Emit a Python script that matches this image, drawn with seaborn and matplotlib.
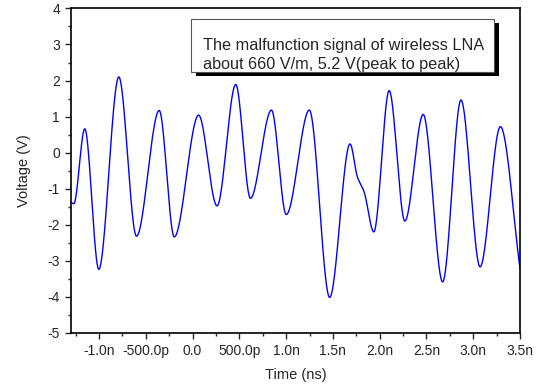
import numpy as np
import pandas as pd
import matplotlib
matplotlib.use("Agg")
import matplotlib.pyplot as plt
import seaborn as sns
from matplotlib.patches import Rectangle
from matplotlib.ticker import MultipleLocator, FuncFormatter

# key points (time in ns, voltage in V): turning points plus shoulders
time_ns = [-1.300, -1.270, -1.153, -1.003, -0.789, -0.600, -0.357, -0.196,
           0.064, 0.261, 0.461, 0.618, 0.843, 1.001, 1.248, 1.465,
           1.683, 1.761, 1.833, 1.937, 2.101, 2.269, 2.465, 2.673,
           2.869, 3.073, 3.290, 3.500]
voltage = [-1.38, -1.42, 0.66, -3.24, 2.10, -2.32, 1.17, -2.34,
           1.04, -1.48, 1.89, -1.27, 1.18, -1.72, 1.18, -4.02,
           0.24, -0.67, -1.09, -2.20, 1.72, -1.90, 1.06, -3.59,
           1.46, -3.17, 0.72, -3.22]

note_lines = ["The malfunction signal of wireless LNA",
              "about 660 V/m, 5.2 V(peak to peak)"]


def smooth_trace(x, y, n=2000):
    # monotone cubic (Fritsch-Carlson) so the line passes through the read points
    x = np.asarray(x, float)
    y = np.asarray(y, float)
    h = np.diff(x)
    d = np.diff(y) / h
    m = np.zeros_like(y)
    for k in range(1, len(x) - 1):
        if d[k - 1] * d[k] > 0:
            w1 = 2 * h[k] + h[k - 1]
            w2 = h[k] + 2 * h[k - 1]
            m[k] = (w1 + w2) / (w1 / d[k - 1] + w2 / d[k])
    m[0] = d[0]
    m[-1] = d[-1]
    xs = np.linspace(x[0], x[-1], n)
    idx = np.clip(np.searchsorted(x, xs) - 1, 0, len(x) - 2)
    t = (xs - x[idx]) / h[idx]
    h00 = 2 * t**3 - 3 * t**2 + 1
    h10 = t**3 - 2 * t**2 + t
    h01 = -2 * t**3 + 3 * t**2
    h11 = t**3 - t**2
    ys = h00 * y[idx] + h10 * h[idx] * m[idx] + h01 * y[idx + 1] + h11 * h[idx] * m[idx + 1]
    return xs, ys


def time_label(v, pos):
    if abs(v) < 1e-9:
        return "0.0"
    if abs(v) < 1:
        return f"{v * 1000:.1f}p"
    return f"{v:.1f}n"


sns.set_style("ticks")
plt.rcParams['font.family'] = ['Liberation Sans', 'DejaVu Sans']
plt.rcParams['axes.unicode_minus'] = False

xs, ys = smooth_trace(time_ns, voltage)
df = pd.DataFrame({"Time": xs, "Voltage": ys})

fig = plt.figure(figsize=(5.4, 3.85), dpi=100)
ax = fig.add_axes([0.1315, 0.1358, 0.8315, 0.8422])
sns.lineplot(data=df, x="Time", y="Voltage", color="#0000ff", linewidth=1.0, ax=ax, sort=False)

ax.set_xlim(-1.3, 3.5)
ax.set_ylim(-5, 4)
ax.xaxis.set_major_locator(MultipleLocator(0.5))
ax.xaxis.set_minor_locator(MultipleLocator(0.25))
ax.yaxis.set_major_locator(MultipleLocator(1))
ax.yaxis.set_minor_locator(MultipleLocator(0.5))
ax.xaxis.set_major_formatter(FuncFormatter(time_label))
ax.tick_params(which="major", direction="out", length=4, width=1, labelsize=10, pad=4)
ax.tick_params(which="minor", direction="out", length=2.5, width=1)

for side in ["top", "right", "left", "bottom"]:
    ax.spines[side].set_visible(True)
    ax.spines[side].set_linewidth(1.2)
    ax.spines[side].set_color("black")

ax.set_xlabel("Time (ns)", fontsize=10.5, labelpad=7)
ax.set_ylabel("Voltage (V)", fontsize=10.5, labelpad=12)

# annotation box with black drop shadow
ax.add_patch(Rectangle((0.035, 2.12), 3.235, 1.47, facecolor="black", edgecolor="none", zorder=4))
ax.add_patch(Rectangle((-0.014, 2.24), 3.234, 1.47, facecolor="white", edgecolor="#555555",
                       linewidth=0.8, zorder=5))
ax.text(0.106, 2.85, note_lines[0], fontsize=11.7, va="baseline", ha="left", zorder=6)
ax.text(0.106, 2.31, note_lines[1], fontsize=11.7, va="baseline", ha="left", zorder=6)

fig.savefig("out.png", dpi=100)
